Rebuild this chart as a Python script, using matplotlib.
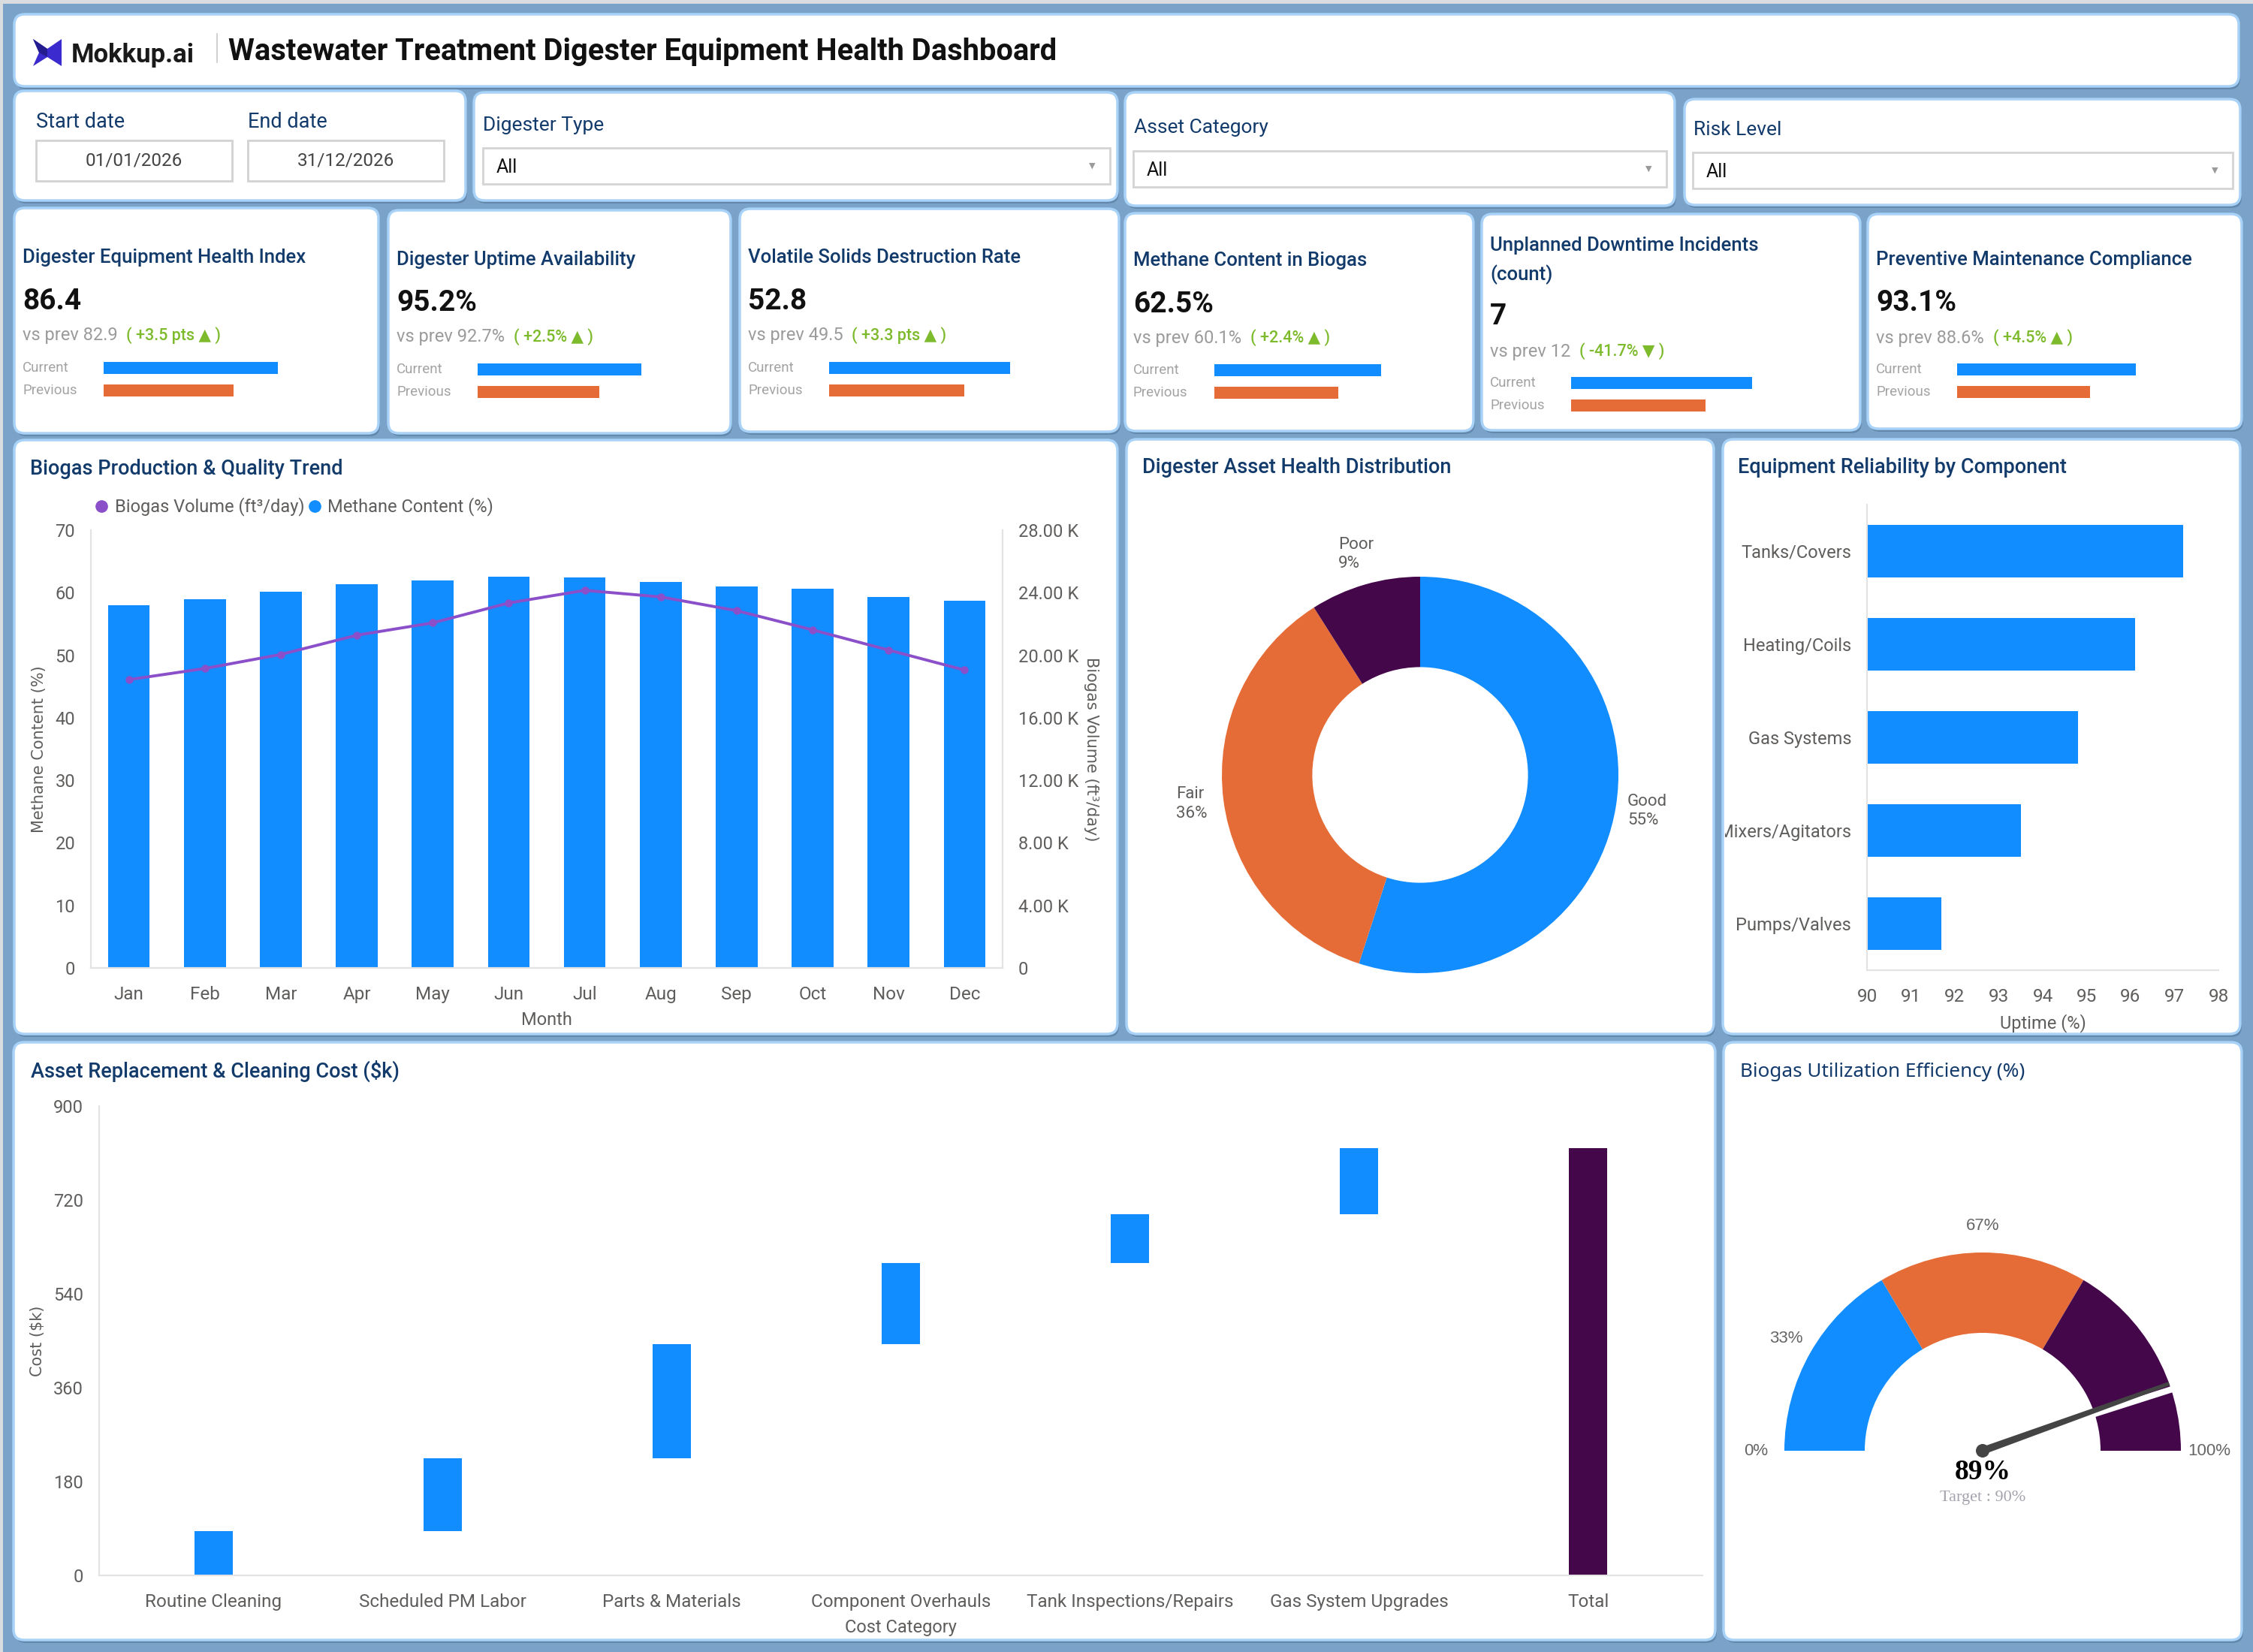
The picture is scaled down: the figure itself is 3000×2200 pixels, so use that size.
import matplotlib
matplotlib.use("Agg")
import matplotlib.pyplot as plt
from matplotlib.patches import FancyBboxPatch, Rectangle, Wedge, Polygon, Circle
from matplotlib.lines import Line2D
from matplotlib.ticker import FuncFormatter
from matplotlib.transforms import Bbox, TransformedBbox
import numpy as np

# ---------------- DATA ----------------
months = ["Jan", "Feb", "Mar", "Apr", "May", "Jun", "Jul", "Aug", "Sep", "Oct", "Nov", "Dec"]
methane_pct = [58.0, 58.9, 60.1, 61.3, 61.9, 62.6, 62.4, 61.7, 61.0, 60.6, 59.3, 58.7]
biogas_volume = [18440, 19150, 20050, 21280, 22070, 23340, 24150, 23730, 22850, 21620, 20330, 19050]

health_labels = ["Good", "Fair", "Poor"]
health_pct = [55, 36, 9]

components = ["Tanks/Covers", "Heating/Coils", "Gas Systems", "Mixers/Agitators", "Pumps/Valves"]
uptime = [97.2, 96.1, 94.8, 93.5, 91.7]

cost_categories = ["Routine Cleaning", "Scheduled PM Labor", "Parts & Materials",
                   "Component Overhauls", "Tank Inspections/Repairs", "Gas System Upgrades", "Total"]
cost_increments = [85, 140, 218, 156, 94, 127]

gauge_bands = [0, 33, 67, 100]
gauge_value = 89
gauge_target = 90
gauge_tick_labels = ["0%", "33%", "67%", "100%"]

kpi_titles = ["Digester Equipment Health Index", "Digester Uptime Availability",
              "Volatile Solids Destruction Rate", "Methane Content in Biogas",
              "Unplanned Downtime Incidents\n(count)", "Preventive Maintenance Compliance"]
kpi_values = ["86.4", "95.2%", "52.8", "62.5%", "7", "93.1%"]
kpi_prev = ["82.9", "92.7%", "49.5", "60.1%", "12", "88.6%"]
kpi_delta = ["+3.5 pts \u25B2", "+2.5% \u25B2", "+3.3 pts \u25B2", "+2.4% \u25B2", "-41.7% \u25BC", "+4.5% \u25B2"]
kpi_bar_rel = [1.0, 0.745]   # current / previous bar (relative)

filter_labels = ["Digester Type", "Asset Category", "Risk Level"]
filter_values = ["All", "All", "All"]
start_date = "01/01/2026"
end_date = "31/12/2026"

# ---------------- STYLE ----------------
BLUE = "#118DFF"
ORANGE = "#E66C37"
PLUM = "#44074A"
LINE_PURPLE = "#8A4FC9"
NAVY = "#123A6B"
TICK = "#605E5C"
SPINE = "#E3E3E3"
GREEN = "#7DBA2C"

plt.rcParams['font.family'] = ['Roboto', 'DejaVu Sans']

W, H = 3000, 2200
fig = plt.figure(figsize=(30, 22), dpi=100)
fig.patch.set_facecolor('#7BA3C9')

bg = fig.add_axes([0, 0, 1, 1])
bg.set_xlim(0, W)
bg.set_ylim(H, 0)
bg.axis('off')


def frect(x0, y0, x1, y1):
    return [x0 / W, 1 - y1 / H, (x1 - x0) / W, (y1 - y0) / H]


def card(x0, y0, x1, y1):
    bg.add_patch(FancyBboxPatch((x0 + 2, y0 + 4), x1 - x0, y1 - y0,
                                boxstyle="round,pad=0,rounding_size=14",
                                fc='#5A80A6', ec='none', alpha=0.75, zorder=1))
    bg.add_patch(FancyBboxPatch((x0, y0), x1 - x0, y1 - y0,
                                boxstyle="round,pad=0,rounding_size=14",
                                fc='white', ec='#A8D2F7', lw=2.5, zorder=2))


def txt(x, y, s, **kw):
    kw.setdefault('va', 'center')
    kw.setdefault('zorder', 5)
    return bg.text(x, y, s, **kw)


# top light strip
bg.add_patch(Rectangle((0, 0), W, 5, fc='#DADCDF', ec='none', zorder=0))
bg.add_patch(Rectangle((0, 0), 4, H, fc='#DADCDF', ec='none', zorder=0))

# ---------------- HEADER ----------------
card(19, 19, 2981, 115)
bg.add_patch(Polygon([(44, 52), (63, 65), (82, 52), (82, 88), (63, 76), (44, 88), (52, 70)],
                     closed=True, fc='#3B2BCF', ec='none', zorder=5))
bg.add_patch(Polygon([(44, 52), (63, 65), (63, 76), (52, 70)], closed=True,
                     fc='#241C8F', ec='none', zorder=6))
txt(95, 74, "Mokkup.ai", fontsize=25, fontweight='semibold', color='#1A1A1A')
bg.plot([289, 289], [45, 83], color='#C8C8C8', lw=1.2, zorder=5)
txt(304, 69, "Wastewater Treatment Digester Equipment Health Dashboard",
    fontsize=28.7, fontweight='bold', color='#111111')

# ---------------- FILTERS ----------------
card(19, 121, 620, 267)
txt(48, 162, "Start date", fontsize=19.5, color=NAVY)
txt(330, 162, "End date", fontsize=19.5, color=NAVY)
for (bx0, bx1, s) in [(48, 309, start_date), (330, 591, end_date)]:
    bg.add_patch(Rectangle((bx0, 187), bx1 - bx0, 54, fc='white', ec='#D2D2D2', lw=2, zorder=4))
    txt((bx0 + bx1) / 2, 214, s, fontsize=17.5, color='#444444', ha='center')

filter_cards = [(631, 123, 1488, 267), (1498, 123, 2230, 274), (2243, 132, 2983, 273)]
filter_label_y = [167, 170, 173]
filter_box = [(643, 197, 1478, 245), (1509, 201, 2219, 249), (2254, 203, 2973, 251)]
for i, (c, ly, bx) in enumerate(zip(filter_cards, filter_label_y, filter_box)):
    card(*c)
    txt(c[0] + 12, ly, filter_labels[i], fontsize=19, color=NAVY)
    bg.add_patch(Rectangle((bx[0], bx[1]), bx[2] - bx[0], bx[3] - bx[1],
                           fc='white', ec='#D4D4D4', lw=2, zorder=4))
    txt(bx[0] + 18, (bx[1] + bx[3]) / 2 + 2, filter_values[i], fontsize=18, color='#111111')
    txt(bx[2] - 24, (bx[1] + bx[3]) / 2, "\u25BC", fontsize=8, color='#9A9A9A', ha='center',
        family='DejaVu Sans')

# ---------------- KPI CARDS ----------------
kpi_cards = [(19, 277, 504, 577), (517, 280, 973, 577), (985, 278, 1490, 575),
             (1498, 284, 1962, 574), (1973, 285, 2477, 573), (2487, 285, 2985, 571)]
kpi_title_y = [343, 346, 343, 347, 347, 346]
kpi_value_y = [402, 403, 402, 405, 422, 403]
kpi_prev_y = [447, 449, 447, 450, 468, 450]
kpi_bar_y = [490, 492, 490, 493, 510, 492]

for i, c in enumerate(kpi_cards):
    card(*c)
    x0 = c[0] + 11
    txt(x0, kpi_title_y[i], kpi_titles[i], fontsize=18.5, color=NAVY, fontweight='medium',
        linespacing=1.6)
    txt(x0, kpi_value_y[i], kpi_values[i], fontsize=28, color='#111111', fontweight='bold')
    t = txt(x0, kpi_prev_y[i], "vs prev " + kpi_prev[i] + "  ", fontsize=17, color='#9B9B9B')
    bg.annotate("( " + kpi_delta[i] + " )", xy=(1, 0.5), xycoords=t, va='center', ha='left',
                fontsize=15.5, color=GREEN, fontweight='medium',
                family=['Roboto', 'DejaVu Sans'], zorder=5)
    txt(x0, kpi_bar_y[i], "Current", fontsize=13.5, color='#A3A3A3')
    txt(x0, kpi_bar_y[i] + 30, "Previous", fontsize=13.5, color='#A3A3A3')
    bx0 = c[0] + 119
    bw = 0.478 * (c[2] - c[0])
    kax = fig.add_axes(frect(bx0, kpi_bar_y[i] - 15, bx0 + bw, kpi_bar_y[i] + 45))
    kax.barh([0, 1], kpi_bar_rel, height=0.54, color=[BLUE, ORANGE])
    kax.set_xlim(0, 1)
    kax.set_ylim(1.5, -0.5)
    kax.axis('off')

# ---------------- BIOGAS TREND ----------------
card(19, 586, 1488, 1377)
txt(40, 625, "Biogas Production & Quality Trend", fontsize=19.5, color=NAVY, fontweight='medium')
ax1 = fig.add_axes(frect(121, 706, 1335, 1289))
x = np.arange(len(months))
ax1.bar(x, methane_pct, width=0.55, color=BLUE, zorder=2)
ax1.set_xlim(-0.5, len(months) - 0.5)
ax1.set_ylim(0, 70)
ax1.set_yticks(range(0, 71, 10))
ax1.set_xticks(x)
ax1.set_xticklabels(months)
ax2 = ax1.twinx()
ax2.plot(x, biogas_volume, color=LINE_PURPLE, lw=2.8, marker='o', ms=6.5, zorder=3)
ax2.set_ylim(0, 28000)
ax2.set_yticks(range(0, 28001, 4000))
ax2.yaxis.set_major_formatter(FuncFormatter(lambda v, p: "0" if v == 0 else f"{v/1000:.2f} K"))
for a in (ax1, ax2):
    a.set_facecolor('none')
    a.spines['top'].set_visible(False)
    for s in ('left', 'right', 'bottom'):
        a.spines[s].set_color(SPINE)
        a.spines[s].set_linewidth(1.5)
    a.tick_params(length=0, labelsize=17, labelcolor=TICK)
ax1.tick_params(axis='y', pad=15)
ax1.tick_params(axis='x', pad=17, labelsize=17.5)
ax2.tick_params(axis='y', pad=15)
ax1.set_xlabel("Month", fontsize=17, color=TICK, labelpad=8)
ax1.set_ylabel("Methane Content (%)", fontsize=15, color=TICK, family='DejaVu Sans')
ax1.yaxis.set_label_coords(-0.049, 0.5)
ax2.set_ylabel("Biogas Volume (ft\u00b3/day)", fontsize=15, color=TICK, family='DejaVu Sans',
               rotation=270, va='center')
ax2.yaxis.set_label_coords(1.097, 0.5)
handles = [Line2D([], [], marker='o', ls='none', color=LINE_PURPLE, ms=11),
           Line2D([], [], marker='o', ls='none', color=BLUE, ms=11)]
ax1.legend(handles, ["Biogas Volume (ft\u00b3/day)", "Methane Content (%)"], loc='center left',
           bbox_to_anchor=(126 / W, 1 - 675 / H), bbox_transform=fig.transFigure, ncol=2,
           frameon=False, handletextpad=0.35, columnspacing=0.15, handlelength=0.8,
           borderpad=0, borderaxespad=0, prop={'size': 17}, labelcolor=TICK)

# ---------------- DONUT ----------------
card(1500, 585, 2282, 1377)
txt(1521, 623, "Digester Asset Health Distribution", fontsize=19.5, color=NAVY, fontweight='medium')
cx, cy, R = 1891, 1032, 264
axd = fig.add_axes(frect(cx - 1.25 * R, cy - 1.25 * R, cx + 1.25 * R, cy + 1.25 * R))
wedges, _ = axd.pie(health_pct, colors=[BLUE, ORANGE, PLUM], startangle=90, counterclock=False,
                    radius=1.0, wedgeprops=dict(width=0.456, linewidth=0))
axd.set_xlim(-1.25, 1.25)
axd.set_ylim(-1.25, 1.25)
axd.set_aspect('equal')
for w, lab, p in zip(wedges, health_labels, health_pct):
    ang = np.deg2rad((w.theta1 + w.theta2) / 2)
    axd.text(1.16 * np.cos(ang), 1.16 * np.sin(ang), f"{lab}\n{p}%", ha='center', va='center',
             multialignment='left', fontsize=16, color=TICK, linespacing=1.3)

# ---------------- RELIABILITY ----------------
card(2294, 585, 2983, 1377)
txt(2314, 623, "Equipment Reliability by Component", fontsize=19.5, color=NAVY, fontweight='medium')
ax3 = fig.add_axes(frect(2486, 672, 2954, 1292))
yy = np.arange(len(components))
ax3.barh(yy, uptime, height=0.56, color=BLUE)
ax3.set_xlim(90, 98)
ax3.set_ylim(len(components) - 0.5, -0.5)
ax3.set_xticks(range(90, 99))
ax3.set_yticks(yy)
ax3.set_yticklabels(components)
for s in ('top', 'right'):
    ax3.spines[s].set_visible(False)
for s in ('left', 'bottom'):
    ax3.spines[s].set_color(SPINE)
    ax3.spines[s].set_linewidth(1.5)
ax3.tick_params(length=0, labelsize=17, labelcolor=TICK)
ax3.tick_params(axis='y', pad=15)
ax3.tick_params(axis='x', pad=17, labelsize=17.5)
ax3.set_xlabel("Uptime (%)", fontsize=17, color=TICK, labelpad=8)
clipbox = TransformedBbox(Bbox.from_extents(2297 / W, 0, 1, 1), fig.transFigure)
for lbl in ax3.get_yticklabels():
    lbl.set_clip_box(clipbox)
    lbl.set_clip_on(True)

# ---------------- WATERFALL ----------------
card(18, 1388, 2284, 2184)
txt(41, 1426, "Asset Replacement & Cleaning Cost ($k)", fontsize=19.5, color=NAVY, fontweight='medium')
ax4 = fig.add_axes(frect(132, 1473, 2267, 2098))
inc = np.array(cost_increments)
starts = np.concatenate([[0], np.cumsum(inc)[:-1]])
xi = np.arange(len(cost_categories))
ax4.bar(xi[:-1], inc, bottom=starts, width=0.167, color=BLUE)
ax4.bar(xi[-1], inc.sum(), width=0.167, color=PLUM)
ax4.set_xlim(-0.5, len(cost_categories) - 0.5)
ax4.set_ylim(0, 900)
ax4.set_yticks(range(0, 901, 180))
ax4.set_xticks(xi)
ax4.set_xticklabels(cost_categories)
for s in ('top', 'right'):
    ax4.spines[s].set_visible(False)
for s in ('left', 'bottom'):
    ax4.spines[s].set_color(SPINE)
    ax4.spines[s].set_linewidth(1.5)
ax4.tick_params(length=0, labelsize=17, labelcolor=TICK)
ax4.tick_params(axis='y', pad=15)
ax4.tick_params(axis='x', pad=17, labelsize=17.5)
ax4.set_xlabel("Cost Category", fontsize=17, color=TICK, labelpad=8)
ax4.set_ylabel("Cost ($k)", fontsize=15, color=TICK, family='DejaVu Sans')
ax4.yaxis.set_label_coords(-0.0335, 0.5)

# ---------------- GAUGE ----------------
card(2295, 1388, 2985, 2184)
txt(2317, 1427, "Biogas Utilization Efficiency (%)", fontsize=18.8, color=NAVY, fontweight='semibold',
    family=['Noto Sans', 'DejaVu Sans'])
gx, gy = 2640, 1932
axg = fig.add_axes(frect(2297, 1440, 2983, 2180))
axg.set_xlim(2297 - gx, 2983 - gx)
axg.set_ylim(gy - 2180, gy - 1440)
axg.set_aspect('equal')
axg.axis('off')
RO, RI = 264, 157
band_colors = [BLUE, ORANGE, PLUM]


def ang(v):
    return 180 - v * 1.8


for lo, hi, col in zip(gauge_bands[:-1], gauge_bands[1:], band_colors):
    axg.add_patch(Wedge((0, 0), RO, ang(hi), ang(lo), width=RO - RI, fc=col, ec='none'))
ta = np.deg2rad(ang(gauge_target))
axg.plot([RI * np.cos(ta) - 2, (RO + 4) * np.cos(ta)], [RI * np.sin(ta), (RO + 4) * np.sin(ta)],
         color='white', lw=6, solid_capstyle='butt')
na = np.deg2rad(ang(gauge_value))
d = np.array([np.cos(na), np.sin(na)])
nrm = np.array([-np.sin(na), np.cos(na)])
pts = [5 * nrm, RO * d + 2.5 * nrm, RO * d - 2.5 * nrm, -5 * nrm]
axg.add_patch(Polygon(pts, closed=True, fc='#444444', ec='none', zorder=4))
axg.add_patch(Circle((0, 0), 9, fc='#444444', ec='none', zorder=5))
label_angles = [180, 150, 90, 0]
for la, s in zip(label_angles, gauge_tick_labels):
    a = np.deg2rad(la)
    axg.text(302 * np.cos(a), 300 * np.sin(a), s, ha='center', va='center', fontsize=16,
             color='#666666', family='Liberation Sans')
axg.text(0, -28, f"{gauge_value}%", ha='center', va='center', fontsize=27, fontweight='bold',
         color='#000000', family='Liberation Serif')
axg.text(0, -62, f"Target : {gauge_target}%", ha='center', va='center', fontsize=16,
         color='#A3A3AD', family='Liberation Serif')

fig.savefig("out.png", dpi=100, facecolor=fig.get_facecolor())
